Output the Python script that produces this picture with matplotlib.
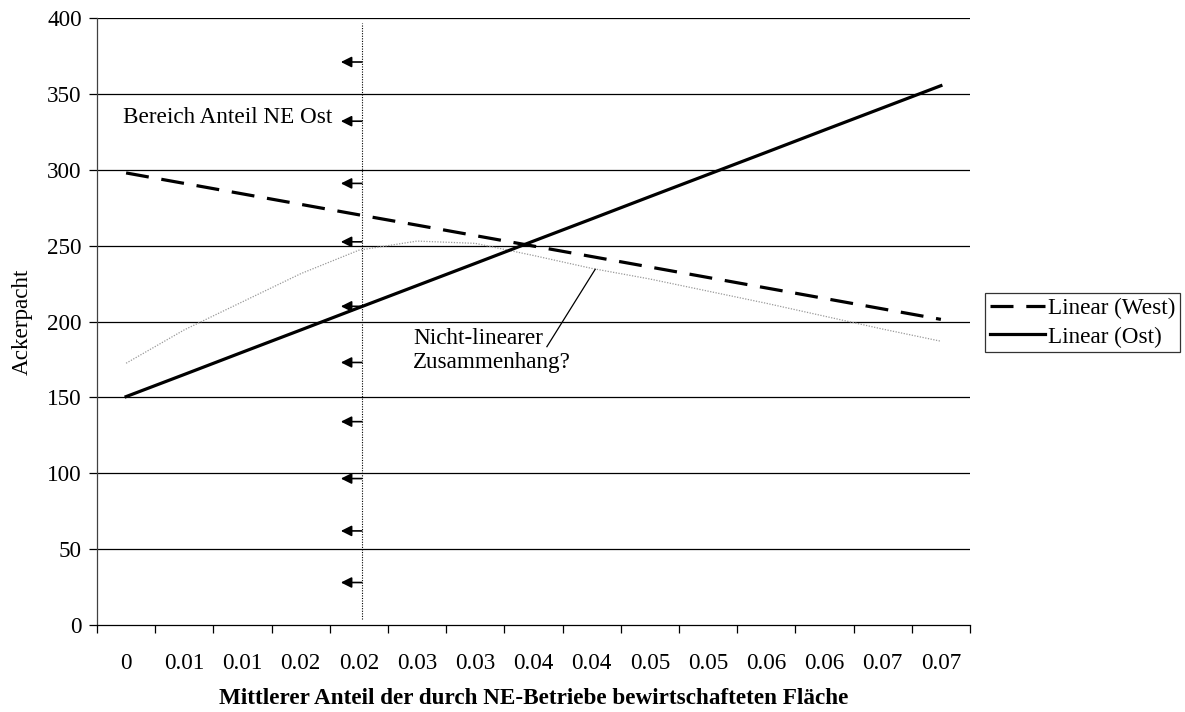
import numpy as np
import matplotlib
matplotlib.use('Agg')
import matplotlib.pyplot as plt

plt.rcParams['font.family'] = ['Liberation Serif', 'DejaVu Serif']

### data
x_labels = ['0', '0.01', '0.01', '0.02', '0.02', '0.03', '0.03', '0.04',
            '0.04', '0.05', '0.05', '0.06', '0.06', '0.07', '0.07']
west_linear = [297.9, 291.0, 284.1, 277.2, 270.3, 263.5, 256.6, 249.7,
               242.8, 235.9, 229.0, 222.1, 215.2, 208.3, 201.4]
ost_linear = [150.5, 165.1, 179.8, 194.4, 209.1, 223.7, 238.3, 253.0,
              267.6, 282.3, 296.9, 311.5, 326.2, 340.8, 355.4]
nonlinear = [172.5, 194.5, 213.0, 231.5, 247.0, 253.0, 251.5, 243.5,
             235.0, 228.0, 220.0, 212.0, 203.5, 195.0, 187.0]
arrow_y = [371, 332, 291, 252.5, 210, 173, 134, 96.5, 62, 28]
ne_ost_x = 4.05

cats = np.arange(len(x_labels))
fs = 16.7

fig = plt.figure(figsize=(11.85, 7.12), dpi=100)
ax = fig.add_axes([97/1185, 1-625/712, 873/1185, 607/712])

### gridlines
for yv in range(50, 401, 50):
    ax.axhline(yv, color='black', lw=0.9, zorder=1)

### series
ax.plot(cats, nonlinear, color='#999999', lw=0.9, linestyle=(0, (1, 1.2)), zorder=2)
l_west, = ax.plot(cats, west_linear, color='black', lw=2.3,
                  linestyle=(0, (7.2, 4.0)), label='Linear (West)', zorder=3)
l_ost, = ax.plot(cats, ost_linear, color='black', lw=2.3,
                 label='Linear (Ost)', zorder=3)

### range of NE share east
ax.plot([ne_ost_x, ne_ost_x], [4, 397], color='black', lw=0.8,
        linestyle=(0, (1, 1.3)), zorder=2)
for yv in arrow_y:
    ax.annotate('', xy=(ne_ost_x - 0.36, yv), xytext=(ne_ost_x, yv),
                arrowprops=dict(arrowstyle='-|>', color='black', lw=1.2,
                                mutation_scale=16, shrinkA=0, shrinkB=0),
                zorder=4)
ax.text(-0.05, 334.5, 'Bereich Anteil NE Ost', fontsize=fs, ha='left', va='center')

ax.text(4.93, 181, 'Nicht-linearer\nZusammenhang?', fontsize=fs, ha='left',
        va='center', linespacing=1.2)
ax.plot([7.23, 8.06], [183.4, 234.4], color='black', lw=0.9, zorder=4)

### axes
ax.set_xlim(-0.5, len(x_labels) - 0.5)
ax.set_ylim(0, 400)
ax.set_yticks(range(0, 401, 50))
ax.tick_params(axis='y', labelsize=fs, length=6, width=0.9, direction='out', pad=5)
ax.set_xticks(cats)
ax.set_xticklabels(x_labels)
ax.set_xticks(np.arange(-0.5, len(x_labels)), minor=True)
ax.tick_params(axis='x', which='major', length=0, labelsize=fs, pad=20)
ax.tick_params(axis='x', which='minor', length=6, width=0.9, direction='out')
for s in ['top', 'right']:
    ax.spines[s].set_visible(False)
ax.spines['left'].set_color('#404040')
ax.spines['bottom'].set_color('black')
ax.spines['left'].set_linewidth(0.9)
ax.spines['bottom'].set_linewidth(0.9)

ax.set_ylabel('Ackerpacht', fontsize=fs, labelpad=10)
ax.set_xlabel('Mittlerer Anteil der durch NE-Betriebe bewirtschafteten Fläche',
              fontsize=fs, fontweight='bold', labelpad=10)

leg = fig.legend(handles=[l_west, l_ost], loc='upper left',
                 bbox_to_anchor=(985/1185, 1-293/712), fontsize=fs,
                 frameon=True, fancybox=False, edgecolor='black',
                 handlelength=2.4, handletextpad=0.1, borderpad=0.2,
                 labelspacing=0.32, borderaxespad=0)
leg.get_frame().set_linewidth(0.9)

fig.savefig('out.png', dpi=100)
